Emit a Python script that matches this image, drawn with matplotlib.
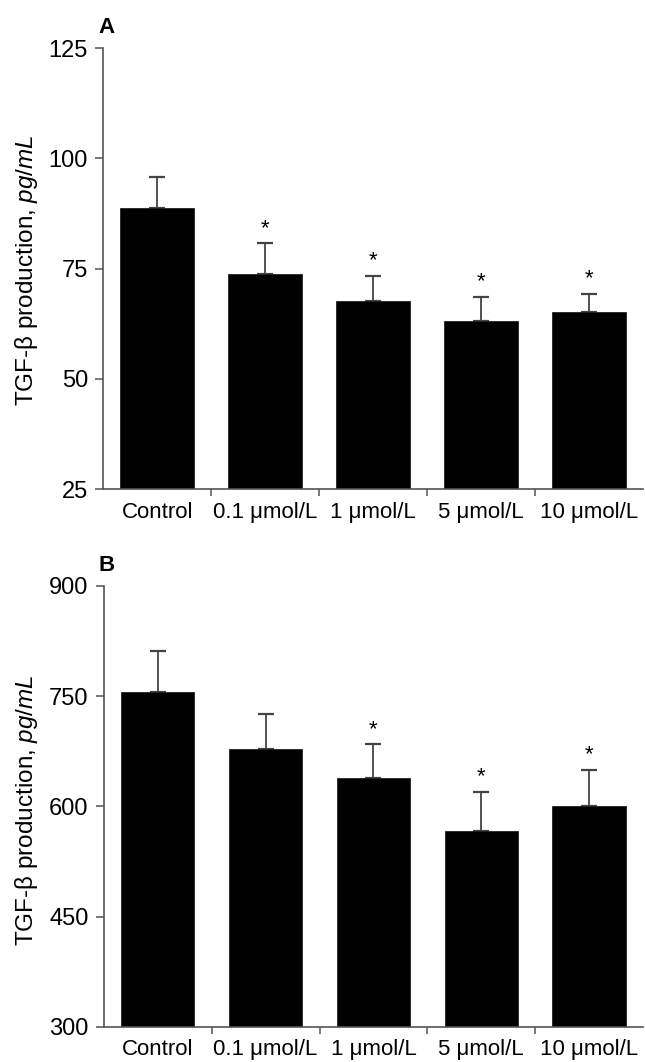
import matplotlib
matplotlib.use("Agg")
import matplotlib.pyplot as plt
import numpy as np

plt.rcParams['font.family'] = ['Liberation Sans', 'DejaVu Sans']
plt.rcParams['mathtext.fontset'] = 'custom'
plt.rcParams['mathtext.rm'] = 'Liberation Sans'
plt.rcParams['mathtext.it'] = 'Liberation Sans:italic'

# data
groups = ['Control', '0.1 μmol/L', '1 μmol/L', '5 μmol/L', '10 μmol/L']

mean_a = [88.7, 73.8, 67.7, 63.2, 65.2]
err_a = [7.1, 6.9, 5.7, 5.4, 4.1]
star_a = [False, True, True, True, True]

mean_b = [755, 678, 639, 567, 600]
err_b = [57, 48, 46, 53, 50]
star_b = [False, False, True, True, True]

ylim_a = (25, 125)
yticks_a = [25, 50, 75, 100, 125]
ylim_b = (300, 900)
yticks_b = [300, 450, 600, 750, 900]

axis_color = '#555555'


def draw_panel(ax, means, errs, stars, ylim, yticks, letter):
    x = np.arange(len(groups))
    ax.bar(x, [m - ylim[0] for m in means], bottom=ylim[0], width=0.68,
           color='black', edgecolor='#222222', linewidth=0.6, zorder=2)
    # only the upper half of the error bar is shown
    ax.errorbar(x, means, yerr=[np.zeros(len(means)), errs], fmt='none',
                ecolor='#444444', elinewidth=1.3, capsize=5.5, capthick=1.6, zorder=1)
    for xi, m, e, s in zip(x, means, errs, stars):
        if s:
            ax.annotate('*', (xi, m + e), xytext=(0, 3), textcoords='offset points',
                        ha='center', va='bottom', fontsize=16)

    ax.set_xlim(-0.5, 4.5)
    ax.set_ylim(*ylim)
    ax.set_yticks(yticks)
    ax.set_yticklabels([str(t) for t in yticks])

    # ticks between groups, labels under the bars
    ax.set_xticks(x[:-1] + 0.5)
    ax.set_xticklabels([])
    ax.set_xticks(x, minor=True)
    ax.set_xticklabels(groups, minor=True)
    ax.tick_params(axis='x', which='major', direction='out', length=5, width=1.1, color=axis_color)
    ax.tick_params(axis='x', which='minor', length=0, pad=9, labelsize=16)
    ax.tick_params(axis='y', direction='out', length=6, width=1.1, color=axis_color,
                   pad=5, labelsize=17)

    for side in ['top', 'right']:
        ax.spines[side].set_visible(False)
    for side in ['left', 'bottom']:
        ax.spines[side].set_color(axis_color)
        ax.spines[side].set_linewidth(1.2)

    ax.text(-0.009, 1.034, letter, transform=ax.transAxes, fontsize=16,
            fontweight='bold', ha='left', va='baseline')


fig = plt.figure(figsize=(6.45, 10.62), dpi=100)
ax_a = fig.add_axes([0.160, 0.5395, 0.837, 0.4153])
ax_b = fig.add_axes([0.161, 0.0330, 0.836, 0.4153])

draw_panel(ax_a, mean_a, err_a, star_a, ylim_a, yticks_a, 'A')
draw_panel(ax_b, mean_b, err_b, star_b, ylim_b, yticks_b, 'B')

ylabel = r'TGF-β production, $\it{pg/mL}$'
fig.text(27 / 645, 1 - 270 / 1062, ylabel, rotation=90, ha='center', va='center', fontsize=17.5)
fig.text(27 / 645, 1 - 810 / 1062, ylabel, rotation=90, ha='center', va='center', fontsize=17.5)

fig.savefig('out.png', dpi=100)
